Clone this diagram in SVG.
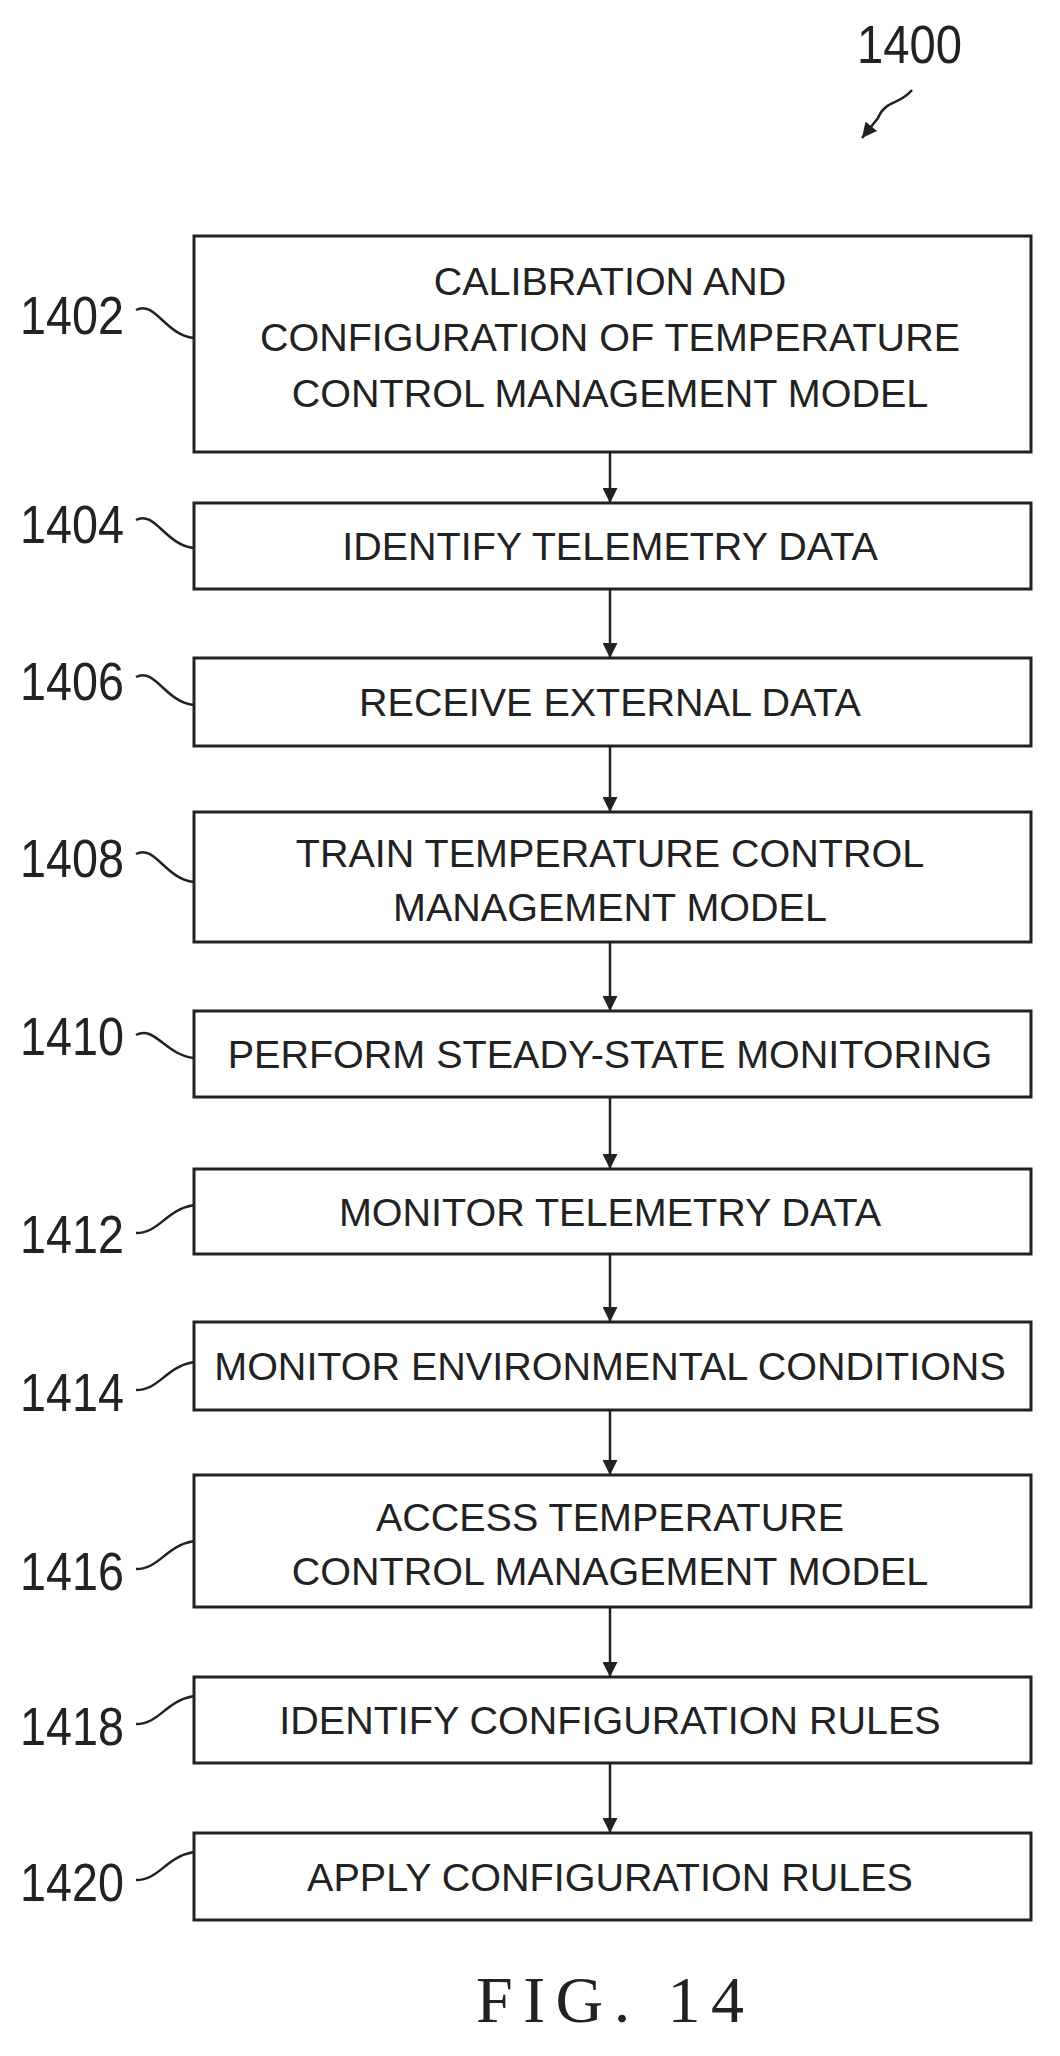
<svg xmlns="http://www.w3.org/2000/svg" width="1060" height="2056" viewBox="0 0 1060 2056">
<style>
.b{fill:#fff;stroke:#222;stroke-width:3}
.t{font-family:"Liberation Sans",Arial,sans-serif;font-size:39.5px;fill:#222;text-anchor:middle}
.n{font-family:"Liberation Sans",Arial,sans-serif;font-size:54px;fill:#222}
.l{fill:none;stroke:#222;stroke-width:2.5}
</style>
<defs><marker id="a" viewBox="0 0 10 10" refX="10" refY="5" markerWidth="6" markerHeight="6" orient="auto"><path d="M0,0L10,5L0,10z" fill="#222"/></marker></defs>
<text class="n" x="857" y="63" textLength="105" lengthAdjust="spacingAndGlyphs">1400</text>
<path class="l" d="M912,90 C900,105 885,100 878,118 L862,138" marker-end="url(#a)"/>
<g id="connectors">
<path class="l" d="M610,452V503" marker-end="url(#a)"/>
<path class="l" d="M610,589V658" marker-end="url(#a)"/>
<path class="l" d="M610,746V812" marker-end="url(#a)"/>
<path class="l" d="M610,942V1011" marker-end="url(#a)"/>
<path class="l" d="M610,1097V1169" marker-end="url(#a)"/>
<path class="l" d="M610,1254V1322" marker-end="url(#a)"/>
<path class="l" d="M610,1410V1475" marker-end="url(#a)"/>
<path class="l" d="M610,1607V1677" marker-end="url(#a)"/>
<path class="l" d="M610,1763V1833" marker-end="url(#a)"/>
</g>
<g id="n1402"><rect class="b" x="194" y="236" width="837" height="216"/>
<text class="t" x="610" y="295">CALIBRATION AND</text><text class="t" x="610" y="351">CONFIGURATION OF TEMPERATURE</text><text class="t" x="610" y="407">CONTROL MANAGEMENT MODEL</text>
<text class="n" x="20" y="334" textLength="104" lengthAdjust="spacingAndGlyphs">1402</text><path class="l" d="M136,310 C155,300 165,335 194,338"/></g>
<g id="n1404"><rect class="b" x="194" y="503" width="837" height="86"/><text class="t" x="610" y="560">IDENTIFY TELEMETRY DATA</text>
<text class="n" x="20" y="543" textLength="104" lengthAdjust="spacingAndGlyphs">1404</text><path class="l" d="M136,520 C155,510 165,545 194,548"/></g>
<g id="n1406"><rect class="b" x="194" y="658" width="837" height="88"/><text class="t" x="610" y="716">RECEIVE EXTERNAL DATA</text>
<text class="n" x="20" y="700" textLength="104" lengthAdjust="spacingAndGlyphs">1406</text><path class="l" d="M136,677 C155,667 165,702 194,705"/></g>
<g id="n1408"><rect class="b" x="194" y="812" width="837" height="130"/><text class="t" x="610" y="867">TRAIN TEMPERATURE CONTROL</text><text class="t" x="610" y="921">MANAGEMENT MODEL</text>
<text class="n" x="20" y="877" textLength="104" lengthAdjust="spacingAndGlyphs">1408</text><path class="l" d="M136,854 C155,844 165,879 194,882"/></g>
<g id="n1410"><rect class="b" x="194" y="1011" width="837" height="86"/><text class="t" x="610" y="1068">PERFORM STEADY-STATE MONITORING</text>
<text class="n" x="20" y="1055" textLength="104" lengthAdjust="spacingAndGlyphs">1410</text><path class="l" d="M136,1035 C155,1025 165,1055 194,1058"/></g>
<g id="n1412"><rect class="b" x="194" y="1169" width="837" height="85"/><text class="t" x="610" y="1226">MONITOR TELEMETRY DATA</text>
<text class="n" x="20" y="1253" textLength="104" lengthAdjust="spacingAndGlyphs">1412</text><path class="l" d="M136,1233 C160,1233 165,1210 194,1205"/></g>
<g id="n1414"><rect class="b" x="194" y="1322" width="837" height="88"/><text class="t" x="610" y="1380">MONITOR ENVIRONMENTAL CONDITIONS</text>
<text class="n" x="20" y="1411" textLength="104" lengthAdjust="spacingAndGlyphs">1414</text><path class="l" d="M136,1390 C160,1390 165,1367 194,1362"/></g>
<g id="n1416"><rect class="b" x="194" y="1475" width="837" height="132"/><text class="t" x="610" y="1531">ACCESS TEMPERATURE</text><text class="t" x="610" y="1585">CONTROL MANAGEMENT MODEL</text>
<text class="n" x="20" y="1590" textLength="104" lengthAdjust="spacingAndGlyphs">1416</text><path class="l" d="M136,1569 C160,1569 165,1546 194,1541"/></g>
<g id="n1418"><rect class="b" x="194" y="1677" width="837" height="86"/><text class="t" x="610" y="1734">IDENTIFY CONFIGURATION RULES</text>
<text class="n" x="20" y="1745" textLength="104" lengthAdjust="spacingAndGlyphs">1418</text><path class="l" d="M136,1724 C160,1724 165,1701 194,1696"/></g>
<g id="n1420"><rect class="b" x="194" y="1833" width="837" height="87"/><text class="t" x="610" y="1891">APPLY CONFIGURATION RULES</text>
<text class="n" x="20" y="1901" textLength="104" lengthAdjust="spacingAndGlyphs">1420</text><path class="l" d="M136,1880 C160,1880 165,1857 194,1852"/></g>
<text x="610" y="2022" text-anchor="middle" font-family="'Liberation Serif','Times New Roman',serif" font-size="66" fill="#222" textLength="268" lengthAdjust="spacing">FIG. 14</text>
</svg>
